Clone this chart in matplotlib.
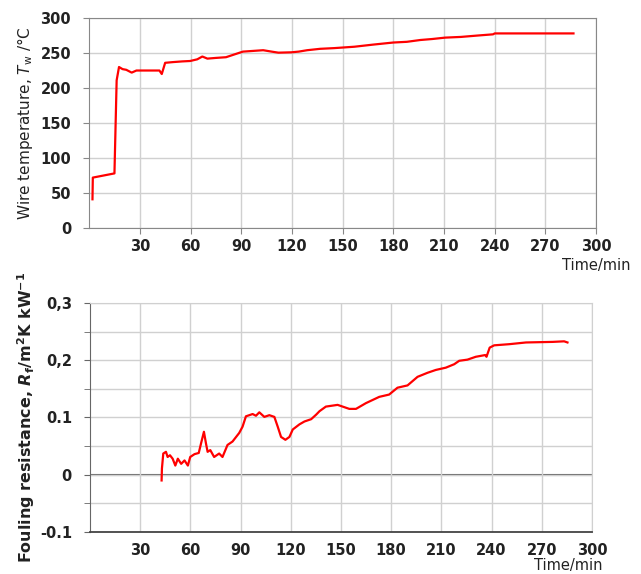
import matplotlib.pyplot as plt
from matplotlib.ticker import MultipleLocator

# wire temperature (top panel)
t_wire = [2.0, 2.2, 15.0, 16.3, 17.7, 19.8, 22.0, 25.2, 28.0, 35.0, 41.6, 43.0, 45.0,
          49.5, 55.0, 59.8, 64.0, 67.0, 70.0, 75.0, 81.0, 86.0, 91.0, 97.0, 103.0,
          108.0, 112.0, 119.6, 124.0, 129.0, 136.7, 145.0, 157.0, 168.0, 180.0,
          188.0, 196.0, 203.0, 210.7, 220.0, 230.0, 239.0, 240.0, 250.0, 265.0, 286.6]
T_wire = [41, 72, 78, 211, 230, 227, 226, 222, 225, 225, 225, 220, 236,
          237, 238, 238.6, 241, 245, 242, 243, 244, 248, 252, 253, 254,
          252, 250.5, 251, 252, 254, 256, 257, 259, 262, 265,
          266, 268.6, 270, 272, 273, 275, 276.7, 278, 278, 278, 278]

# fouling resistance (bottom panel)
t_foul = [42.8, 43.0, 43.8, 45.4, 46.4, 47.8, 49.4, 51.0, 52.5, 54.5, 56.5, 58.5,
          59.9, 62.5, 65.0, 66.4, 68.1, 69.3, 70.3, 71.9, 74.2, 77.2, 79.2, 82.2,
          85.2, 89.2, 91.2, 93.2, 97.2, 99.2, 101.2, 104.2, 107.2, 110.2, 112.2,
          114.2, 116.8, 119.2, 121.2, 125.2, 128.2, 132.2, 135.2, 137.2, 141.0,
          148.0, 151.0, 155.0, 159.0, 164.9, 172.9, 178.8, 183.8, 189.8, 195.8,
          201.7, 206.7, 212.7, 217.7, 220.7, 225.6, 230.6, 236.2, 237.0, 238.9,
          241.6, 250.6, 260.6, 276.5, 283.4, 285.4]
R_foul = [-0.010, 0.011, 0.037, 0.040, 0.031, 0.034, 0.028, 0.016, 0.028, 0.019, 0.025, 0.016,
          0.031, 0.036, 0.038, 0.055, 0.075, 0.055, 0.040, 0.043, 0.031, 0.037, 0.031, 0.052,
          0.058, 0.073, 0.084, 0.102, 0.106, 0.103, 0.109, 0.101, 0.104, 0.101, 0.084,
          0.066, 0.061, 0.066, 0.079, 0.088, 0.093, 0.097, 0.105, 0.111, 0.119,
          0.122, 0.119, 0.115, 0.115, 0.125, 0.136, 0.140, 0.152, 0.156, 0.171,
          0.178, 0.183, 0.187, 0.193, 0.199, 0.201, 0.206, 0.209, 0.206, 0.222,
          0.226, 0.228, 0.231, 0.232, 0.233, 0.231]

x_ticks = [30, 60, 90, 120, 150, 180, 210, 240, 270, 300]
top_yticks = [0, 50, 100, 150, 200, 250, 300]
bot_yticks = [-0.1, 0, 0.1, 0.2, 0.3]
bot_ylabels = ['-0.1', '0', '0.1', '0,2', '0,3']

plt.rcParams['font.family'] = 'DejaVu Sans'
fig = plt.figure(figsize=(6.41, 5.74), dpi=100)
grid_c = '#d0d0d0'
tick_font = dict(fontsize=10.5, fontweight='bold', color='#222222')

# ---- top panel
ax1 = fig.add_axes([0.139, 0.6028, 0.791, 0.3658])
ax1.plot(t_wire, T_wire, color='#ff0000', lw=1.6)
ax1.set_xlim(0, 300)
ax1.set_ylim(0, 300)
ax1.set_xticks(x_ticks)
ax1.set_yticks(top_yticks)
ax1.set_xticklabels([str(v) for v in x_ticks], **tick_font)
ax1.set_yticklabels([str(v) for v in top_yticks], **tick_font)
ax1.grid(True, color=grid_c, lw=1)
for s in ax1.spines.values():
    s.set_color('#888888')
ax1.tick_params(length=4, color='#888888', pad=4)
ax1.tick_params(axis='y', pad=9)
ax1.set_ylabel('Wire temperature, $T_\\mathrm{w}$ /°C', fontsize=11, color='#222222', labelpad=4)
fig.text(0.983, 0.551, 'Time/min', ha='right', va='top', fontsize=10.5, color='#222222')

# ---- bottom panel
ax2 = fig.add_axes([0.1404, 0.0732, 0.783, 0.399])
ax2.plot(t_foul, R_foul, color='#ff0000', lw=1.6)
ax2.axhline(0, color='#666666', lw=1.5, zorder=1)
ax2.set_xlim(0, 300)
ax2.set_ylim(-0.1, 0.3)
ax2.set_xticks(x_ticks)
ax2.set_yticks(bot_yticks)
ax2.yaxis.set_minor_locator(MultipleLocator(0.05))
ax2.set_xticklabels([str(v) for v in x_ticks], **tick_font)
ax2.set_yticklabels(bot_ylabels, **tick_font)
ax2.grid(True, which='both', axis='y', color=grid_c, lw=1)
ax2.grid(True, which='major', axis='x', color=grid_c, lw=1)
for k in ['top', 'right']:
    ax2.spines[k].set_color(grid_c)
ax2.spines['left'].set_color('#666666')
ax2.spines['bottom'].set_color('#444444')
ax2.spines['bottom'].set_linewidth(1.3)
ax2.tick_params(axis='x', length=0, pad=8)
ax2.tick_params(axis='y', which='both', length=4, color='#666666', pad=9)
ax2.set_ylabel('Fouling resistance, $\\boldsymbol{R}_\\mathbf{f}$/m$^\\mathbf{2}$K kW$^\\mathbf{-1}$',
               fontsize=11.5, fontweight='bold', color='#222222', labelpad=2)
fig.text(0.94, 0.002, 'Time/min', ha='right', va='bottom', fontsize=10.5, color='#222222')

fig.savefig('out.png', dpi=100)
